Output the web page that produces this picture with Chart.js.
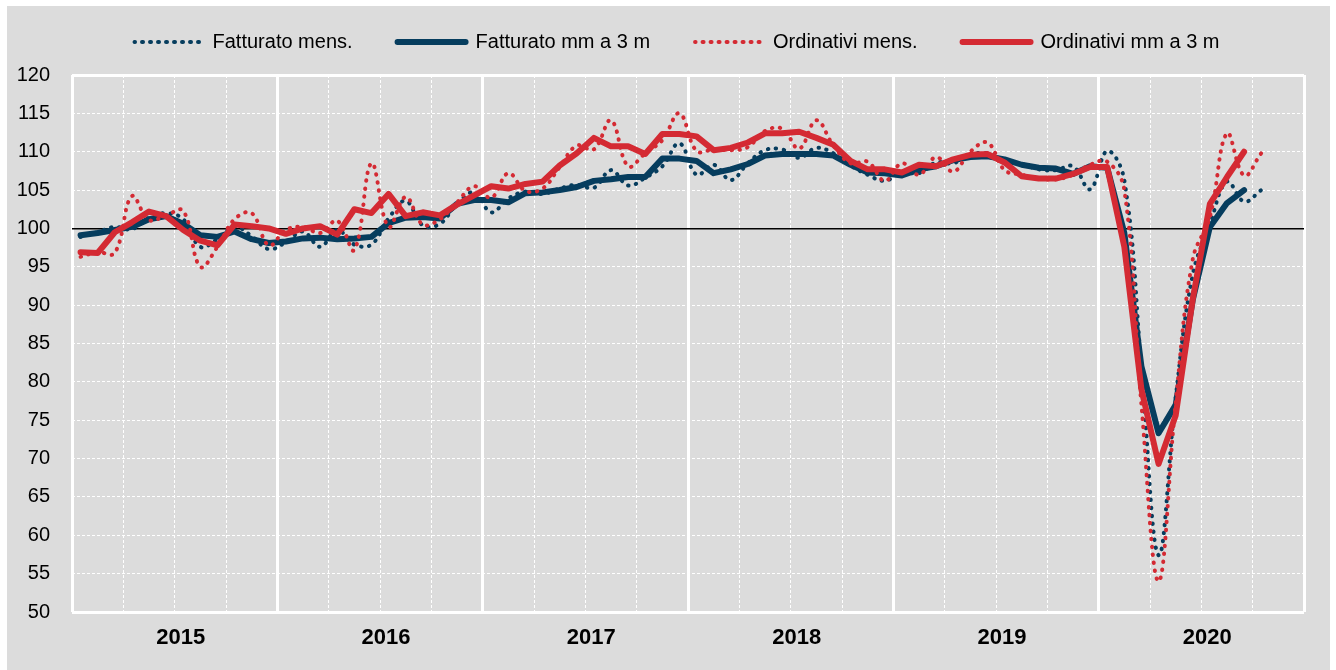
<!DOCTYPE html>
<html>
<head>
<meta charset="utf-8">
<script src="https://cdn.jsdelivr.net/npm/chart.js@4.4.1/dist/chart.umd.min.js"></script>
<style>
    html, body { margin: 0; padding: 0; background: #ffffff; }
    #wrap { position: absolute; left: 7px; top: 6px; width: 1323px; height: 664px; background: #dcdcdc; }
</style>
</head>
<body>
<div id="wrap"><canvas id="chart"></canvas></div>
<script>
// Monthly indices, Jan 2015 - Oct 2020 (moving averages are centred, so they stop at Sep 2020)
const years = ['2015', '2016', '2017', '2018', '2019', '2020'];
const yTicks = [50, 55, 60, 65, 70, 75, 80, 85, 90, 95, 100, 105, 110, 115, 120];
const seriesNames = ['Fatturato mens.', 'Fatturato mm a 3 m', 'Ordinativi mens.', 'Ordinativi mm a 3 m'];

const fatturatoMens = [
    98.9, 99.5, 100.2, 99.9, 101.4, 102.0, 101.2, 97.6, 98.6, 100.2, 99.0, 97.3,
    98.2, 99.6, 97.6, 99.8, 97.9, 97.9, 101.3, 103.6, 100.4, 100.6, 103.2, 104.7,
    102.1, 103.9, 104.8, 104.5, 105.2, 105.7, 105.3, 107.6, 105.6, 106.6, 108.1, 111.1,
    107.0, 108.3, 106.3, 108.5, 110.2, 110.3, 109.2, 110.5, 109.8, 108.2, 107.0, 106.2,
    107.3, 107.2, 108.6, 108.5, 109.6, 109.8, 108.8, 108.4, 107.7, 107.6, 108.1, 105.1,
    110.1, 106.3, 82.0, 57.4, 78.0, 94.0, 100.5, 106.1, 103.5, 105.0
];
const fatturatoMm3 = [
    99.1, 99.4, 99.8, 100.2, 101.2, 101.6, 100.6, 99.1, 98.9, 99.6, 98.6, 98.1,
    98.3, 98.7, 98.8, 98.6, 98.7, 98.9, 100.7, 101.4, 101.5, 101.3, 103.2, 103.7,
    103.7, 103.4, 104.6, 104.7, 105.0, 105.4, 106.2, 106.4, 106.7, 106.7, 109.1, 109.1,
    108.8, 107.2, 107.7, 108.4, 109.5, 109.7, 109.7, 109.7, 109.5, 108.3, 107.3, 107.2,
    106.9, 107.7, 108.1, 108.9, 109.3, 109.4, 109.0, 108.3, 107.9, 107.8, 107.1, 108.1,
    107.9, 99.4, 82.0, 73.3, 77.0, 90.7, 100.2, 103.3, 105.0, null
];
const ordinativiMens = [
    96.3, 96.9, 96.8, 104.2, 101.1, 101.7, 102.3, 95.0, 97.6, 101.2, 102.0, 97.8,
    99.8, 100.2, 99.4, 101.0, 97.2, 108.5, 100.2, 104.1, 100.5, 101.2, 103.4, 105.5,
    104.0, 107.2, 104.9, 105.2, 108.0, 110.8, 110.3, 114.1, 108.1, 109.8, 111.5, 115.0,
    110.1, 110.3, 110.2, 110.6, 112.7, 113.0, 110.4, 114.1, 110.8, 108.5, 108.7, 106.2,
    108.5, 107.0, 109.3, 107.4, 110.0, 111.2, 107.6, 107.0, 106.5, 106.4, 107.0, 108.3,
    108.7, 105.0, 77.0, 54.0, 77.3, 96.0, 101.5, 112.4, 106.9, 109.8
];
const ordinativiMm3 = [
    96.9, 96.8, 99.5, 100.8, 102.2, 101.6, 99.8, 98.4, 97.8, 100.5, 100.3, 100.0,
    99.3, 100.0, 100.3, 99.2, 102.5, 102.0, 104.5, 101.6, 102.1, 101.7, 103.1, 104.3,
    105.5, 105.2, 105.8, 106.1, 108.2, 109.8, 111.8, 110.7, 110.7, 109.7, 112.3, 112.3,
    112.0, 110.2, 110.5, 111.2, 112.4, 112.4, 112.6, 111.8, 110.9, 108.8, 107.7, 107.7,
    107.3, 108.3, 108.1, 109.0, 109.6, 109.7, 108.6, 106.8, 106.5, 106.5, 107.1, 108.0,
    108.0, 97.6, 79.0, 69.3, 75.6, 90.8, 103.2, 106.7, 110.0, null
];

const FONT = "'Liberation Sans', Arial, sans-serif";
const BLUE = '#063d5e';
const RED = '#d42a33';
const WHITE = '#ffffff';
const MONTHS = years.length * 12;

// month i sits in the middle of its slot on the 0..72 axis
const toPoints = arr => arr.map((v, i) => ({ x: i + 0.5, y: v }));
const setTicks = values => scale => { scale.ticks = values.map(v => ({ value: v })); };

const quarterLines = [];
const yearLines = [];
for (let m = 0; m <= MONTHS; m += 3) {
    if (m % 12 === 0) yearLines.push(m); else quarterLines.push(m);
}
const yearMids = years.map((y, i) => i * 12 + 6.35);

// dash period 8 and a 68px legend box keep the legend dots on one row
const dotted = { borderWidth: 4, borderDash: [0.5, 7.5], borderCapStyle: 'round', tension: 0.4 };
const thick = { borderWidth: 6, borderCapStyle: 'round', borderJoinStyle: 'round', tension: 0 };
const axes = { xAxisID: 'x', yAxisID: 'y' };

// an empty scale used only to reserve room
const spacer = (position, size) => ({
    type: 'linear', position, min: 0, max: 1,
    grid: { display: false }, border: { display: false }, ticks: { display: false },
    afterFit: s => { if (s.isHorizontal()) s.height = size; else s.width = size; }
});

new Chart(document.getElementById('chart'), {
    type: 'line',
    data: {
        datasets: [
            { label: seriesNames[0], data: toPoints(fatturatoMens), borderColor: BLUE, backgroundColor: BLUE, order: 4, ...axes, ...dotted },
            { label: seriesNames[1], data: toPoints(fatturatoMm3), borderColor: BLUE, backgroundColor: BLUE, order: 3, ...axes, ...thick },
            { label: seriesNames[2], data: toPoints(ordinativiMens), borderColor: RED, backgroundColor: RED, order: 2, ...axes, ...dotted },
            { label: seriesNames[3], data: toPoints(ordinativiMm3), borderColor: RED, backgroundColor: RED, order: 1, ...axes, ...thick }
        ]
    },
    options: {
        responsive: true,
        maintainAspectRatio: false,
        animation: false,
        elements: { point: { radius: 0, hoverRadius: 0 } },
        layout: { padding: { left: 0, right: -17, top: -19, bottom: 0 } },
        plugins: {
            tooltip: { enabled: false },
            legend: {
                position: 'top',
                align: 'center',
                labels: {
                    boxWidth: 68,
                    boxHeight: 0,
                    color: '#000',
                    font: { family: FONT, size: 20 },
                    padding: 45,
                    sort: (a, b) => a.datasetIndex - b.datasetIndex
                }
            }
        },
        scales: {
            x: {
                type: 'linear', position: 'bottom', min: 0, max: MONTHS,
                afterBuildTicks: setTicks(quarterLines),
                grid: { color: WHITE, lineWidth: 1, drawTicks: false },
                border: { display: false, dash: [3, 2] },
                ticks: { display: false },
                afterFit: s => { s.height = 0; }
            },
            y: {
                type: 'linear', position: 'left', min: 50, max: 120,
                afterBuildTicks: setTicks(yTicks),
                grid: {
                    color: c => [50, 100, 120].includes(c.tick.value) ? 'rgba(0,0,0,0)' : WHITE,
                    lineWidth: 1, drawTicks: false
                },
                border: { display: false, dash: [3, 2] },
                ticks: { color: '#000', padding: 22, font: { family: FONT, size: 20 } },
                afterFit: s => { s.width = 65; }
            },
            xYear: {
                type: 'linear', position: 'bottom', min: 0, max: MONTHS,
                afterBuildTicks: setTicks(yearLines),
                grid: { color: WHITE, lineWidth: 3, drawTicks: false },
                border: { display: false },
                ticks: { display: false },
                afterFit: s => { s.height = 0; }
            },
            xLabel: {
                type: 'linear', position: 'bottom', min: 0, max: MONTHS,
                afterBuildTicks: setTicks(yearMids),
                grid: { display: false, drawTicks: false },
                border: { display: false },
                ticks: {
                    autoSkip: false, maxRotation: 0, padding: 13, color: '#000',
                    font: { family: FONT, size: 22, weight: 'bold' },
                    callback: (v, i) => years[i]
                },
                afterFit: s => { s.height = 58; }
            },
            yFrame: {
                type: 'linear', position: 'left', min: 50, max: 120,
                afterBuildTicks: setTicks([50, 100, 120]),
                grid: {
                    color: c => c.tick.value === 100 ? '#000' : WHITE,
                    lineWidth: c => c.tick.value === 100 ? 1.5 : 3,
                    drawTicks: false
                },
                border: { display: false },
                ticks: { display: false },
                afterFit: s => { s.width = 0; }
            },
            xTop: spacer('top', 13),
            yRight: spacer('right', 43)
        }
    }
});
</script>
</body>
</html>
